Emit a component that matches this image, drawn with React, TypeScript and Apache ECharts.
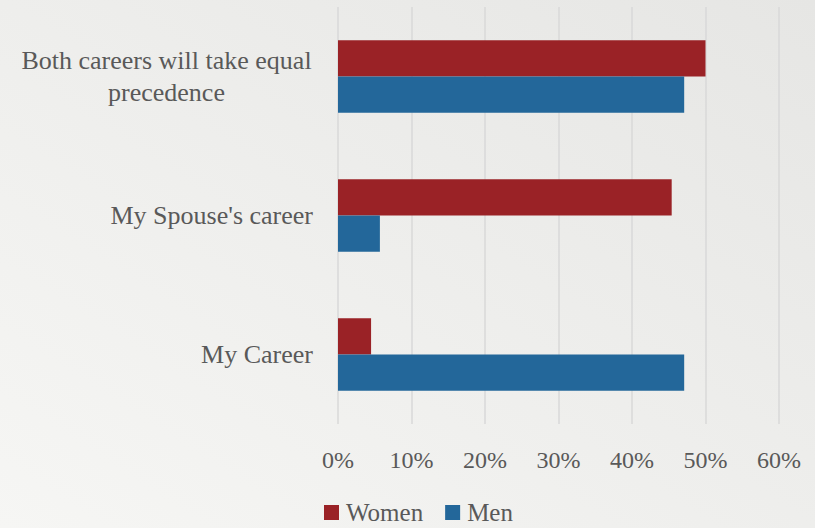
import React, { useEffect, useRef } from "react";
import * as echarts from "echarts";

const categories = ["My Career", "My Spouse's career", "Both careers will take equal precedence"];
const womenValues = [4.5, 45.4, 50];
const menValues = [47.1, 5.7, 47.1];
const xTicks = [0, 10, 20, 30, 40, 50, 60];

const FONT = "Liberation Serif";
const TEXT = "#595959";
const FS = 26;
const TICK_FS = 24;
const LEGEND_FS = 25;

function wrapLabel(v: string): string {
  const words = v.split(" ");
  const lines: string[] = [];
  let cur = "";
  for (const w of words) {
    const t = cur ? cur + " " + w : w;
    if (t.length > 28 && cur) {
      lines.push(cur);
      cur = w;
    } else cur = t;
  }
  if (cur) lines.push(cur);
  if (lines.length === 1) return v;
  return lines.map((l) => "{c|" + l + "}").join("\n");
}

export default function App() {
  const ref = useRef<HTMLDivElement>(null);
  useEffect(() => {
    if (!ref.current) return;
    const chart = echarts.init(ref.current, undefined, { renderer: "svg" });
    chart.setOption({
      animation: false,
      backgroundColor: new echarts.graphic.LinearGradient(0, 1, 1, 0, [
        { offset: 0, color: "#f6f6f4" },
        { offset: 1, color: "#e6e6e4" },
      ]),
      textStyle: { fontFamily: FONT },
      grid: { left: 338, right: 36, top: 7, bottom: 104, containLabel: false },
      legend: {
        data: ["Women", "Men"],
        top: 500,
        left: 324,
        padding: 0,
        itemWidth: 15,
        itemHeight: 15,
        itemGap: 22,
        icon: "rect",
        textStyle: { color: TEXT, fontSize: LEGEND_FS, fontFamily: FONT, padding: [0, 0, 0, 2] },
      },
      xAxis: {
        type: "value",
        min: xTicks[0],
        max: xTicks[xTicks.length - 1],
        interval: 10,
        axisLine: { show: false },
        axisTick: { show: false },
        splitLine: { show: true, lineStyle: { color: "#d9d9d9", width: 1.5 } },
        axisLabel: {
          color: TEXT,
          fontSize: TICK_FS,
          fontFamily: FONT,
          margin: 24,
          formatter: (v: number) => v + "%",
        },
      },
      yAxis: {
        type: "category",
        data: categories,
        axisLine: { show: false },
        axisTick: { show: false },
        axisLabel: {
          color: TEXT,
          fontSize: FS,
          fontFamily: FONT,
          margin: 25,
          lineHeight: 32,
          formatter: wrapLabel,
          rich: {
            c: { width: 293, align: "center", fontSize: FS, lineHeight: 32, color: TEXT, fontFamily: FONT },
          },
        },
      },
      series: [
        {
          name: "Women",
          type: "bar",
          data: womenValues,
          itemStyle: { color: "#9a2226" },
          barGap: "0%",
          barCategoryGap: "48%",
        },
        {
          name: "Men",
          type: "bar",
          data: menValues,
          itemStyle: { color: "#23679a" },
          barGap: "0%",
          barCategoryGap: "48%",
        },
      ],
    });
    return () => chart.dispose();
  }, []);
  return (
    <div
      ref={ref}
      style={{ position: "fixed", left: 0, top: 0, width: 815, height: 528 }}
    />
  );
}
